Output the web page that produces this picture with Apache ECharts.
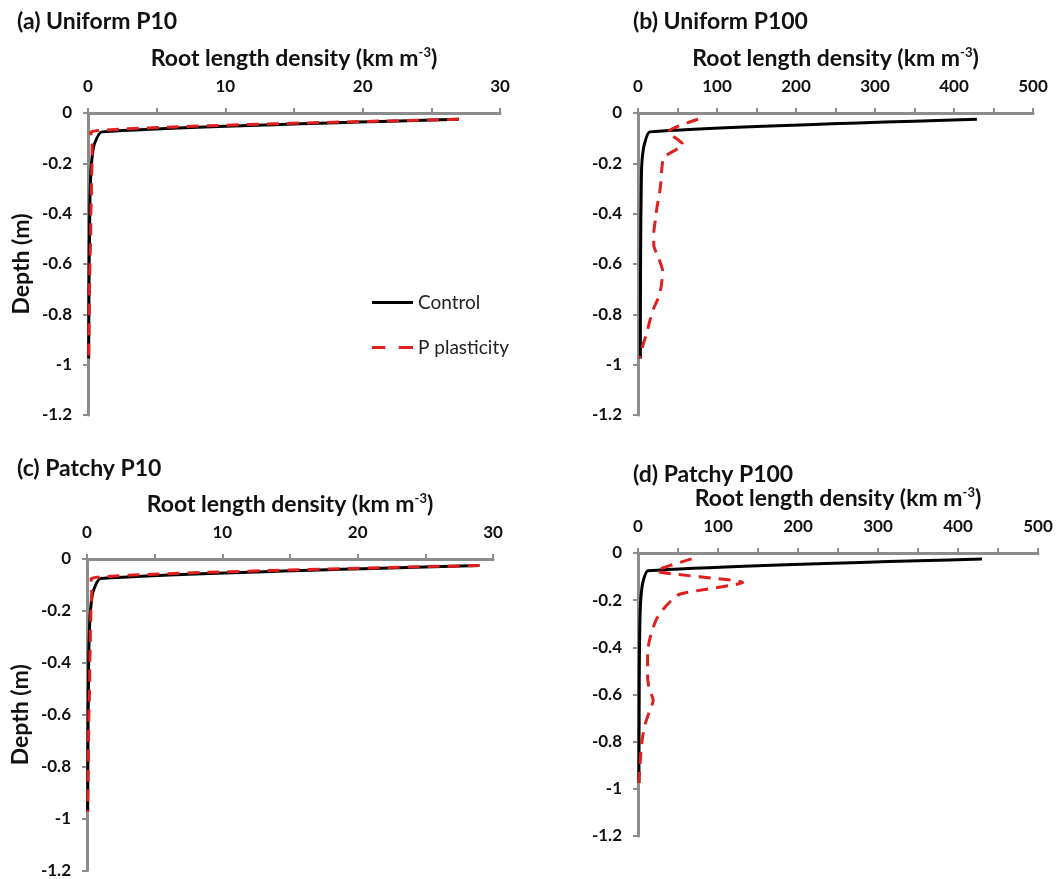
<!DOCTYPE html>
<html><head><meta charset="utf-8">
<script src="https://cdn.jsdelivr.net/npm/echarts@6/dist/echarts.min.js"></script>
<style>html,body{margin:0;padding:0;background:#fff}#c{width:1059px;height:879px}</style>
</head><body><div id="c"></div>
<script>
const depths = [-0.025,-0.075,-0.125,-0.175,-0.225,-0.275,-0.325,-0.375,-0.425,-0.475,-0.525,-0.575,-0.625,-0.675,-0.725,-0.775,-0.825,-0.875,-0.925,-0.975];
const controlA = [27.0,1.0,0.45,0.3,0.22,0.18,0.15,0.13,0.12,0.11,0.1,0.09,0.08,0.08,0.07,0.07,0.06,0.06,0.05,0.05];
const plastA   = [27.0,0.2,0.3,0.3,0.28,0.25,0.25,0.22,0.2,0.2,0.18,0.15,0.13,0.12,0.1,0.1,0.08,0.07,0.06,0.05];
const controlB = [429,15,8,5.5,4.5,4.2,4,3.8,3.6,3.5,3.4,3.3,3.2,3.2,3.1,3.1,3,3,3,3];
const plastB   = [76,38,57,33,30,29,27,24,22,20,20,26,31,30,27,20,15,11,6,2];
const controlC = [29.0,1.0,0.45,0.3,0.22,0.18,0.15,0.13,0.12,0.11,0.1,0.09,0.08,0.08,0.07,0.07,0.06,0.06,0.05,0.05];
const plastC   = [29.0,0.3,0.35,0.3,0.28,0.25,0.25,0.22,0.2,0.2,0.18,0.15,0.13,0.12,0.1,0.1,0.08,0.07,0.06,0.05];
const controlD = [430,12.5,6,4,3,2.5,2.2,2,1.8,1.7,1.6,1.5,1.5,1.4,1.4,1.3,1.3,1.2,1.2,1.2];
const plastD   = [67,23,131,52,35,24,18,14,12,12,12,14,19,14,9,6,4,3,2,1];
const panelTitles = ['(a) Uniform P10','(b) Uniform P100','(c) Patchy P10','(d) Patchy P100'];
const xMax = [30,500,30,500];
const xLabelStep = [10,100,10,100];
const xTickStep = [5,50,5,50];
const yMin = -1.2, yMax = 0, yStep = 0.2;
const seriesNames = ['Control','P plasticity'];

const FONT = 'Lato';
const AX = '#8c8c8c';
const grids = [
  {left:88, top:113, width:412, height:302},
  {left:638, top:113, width:395, height:302},
  {left:87, top:559, width:406, height:313},
  {left:638, top:553, width:400, height:283}
];
const titlePos = [{left:12, top:5},{left:628, top:5},{left:12, top:452},{left:628, top:458}];
const controls = [controlA, controlB, controlC, controlD];
const plasts = [plastA, plastB, plastC, plastD];

const xAxes = [], yAxes = [], series = [];
for (let i = 0; i < 4; i++) {
  xAxes.push({
    type:'value', gridIndex:i, position:'top', min:0, max:xMax[i], interval:xTickStep[i],
    name:'Root length density (km m{sup|-3})', nameLocation:'middle', nameGap:42,
    nameTextStyle:{fontFamily:FONT, fontSize:23, fontWeight:'bold', color:'#111',
      rich:{sup:{fontFamily:FONT, fontSize:13, fontWeight:'bold', color:'#111', verticalAlign:'top', padding:[0,0,12,0]}}},
    axisLine:{show:true, lineStyle:{color:AX, width:3}},
    axisTick:{show:true, length:5, lineStyle:{color:AX, width:2}},
    axisLabel:{margin:18, fontFamily:FONT, fontSize:17, fontWeight:'bold', color:'#111',
      formatter:(v)=> (Math.round(v) % xLabelStep[i] === 0 ? String(Math.round(v)) : '')},
    splitLine:{show:false}
  });
  yAxes.push({
    type:'value', gridIndex:i, min:yMin, max:yMax, interval:yStep,
    name:(i % 2 === 0) ? 'Depth (m)' : '', nameLocation:'middle', nameGap:55,
    nameTextStyle:{fontFamily:FONT, fontSize:23, fontWeight:'bold', color:'#111'},
    axisLine:{show:true, lineStyle:{color:AX, width:3}},
    axisTick:{show:true, length:5, lineStyle:{color:AX, width:2}},
    axisLabel:{margin:16, fontFamily:FONT, fontSize:17, fontWeight:'bold', color:'#111',
      formatter:(v)=> { const r = Math.round(v*10)/10; return r === 0 ? '0' : String(r); }},
    splitLine:{show:false}
  });
  series.push({
    name:seriesNames[0], type:'line', xAxisIndex:i, yAxisIndex:i, symbol:'none', smooth:0.2,
    data:depths.map((d,k)=>[controls[i][k], d]),
    lineStyle:{color:'#000', width:3}, itemStyle:{color:'#000', borderWidth:0}, z:2
  });
  series.push({
    name:seriesNames[1], type:'line', xAxisIndex:i, yAxisIndex:i, symbol:'none', smooth:0.2,
    data:depths.map((d,k)=>[plasts[i][k], d]),
    lineStyle:{color:'#e01f1f', width:3, type:[12,8]}, itemStyle:{color:'#e01f1f', borderWidth:0}, z:3
  });
}

const chart = echarts.init(document.getElementById('c'), null, {renderer:'canvas'});
chart.setOption({
  backgroundColor:'#fff',
  animation:false,
  title: panelTitles.map((t,i)=>({text:t, left:titlePos[i].left, top:titlePos[i].top,
    textStyle:{fontFamily:FONT, fontSize:23, fontWeight:'bold', color:'#111'}})),
  legend:{
    data:[
      {name:seriesNames[0], icon:'path://M0,0H43V3H0Z'},
      {name:seriesNames[1], icon:'path://M0,0H14V3H0Z M28,0H43V3H28Z'}
    ],
    orient:'vertical', left:367, top:288, itemWidth:41, itemHeight:3, itemGap:26,
    symbolKeepAspect:false, itemStyle:{borderWidth:0},
    textStyle:{fontFamily:FONT, fontSize:19, color:'#222'}, selectedMode:false
  },
  grid:grids,
  xAxis:xAxes,
  yAxis:yAxes,
  series:series
});
</script></body></html>
